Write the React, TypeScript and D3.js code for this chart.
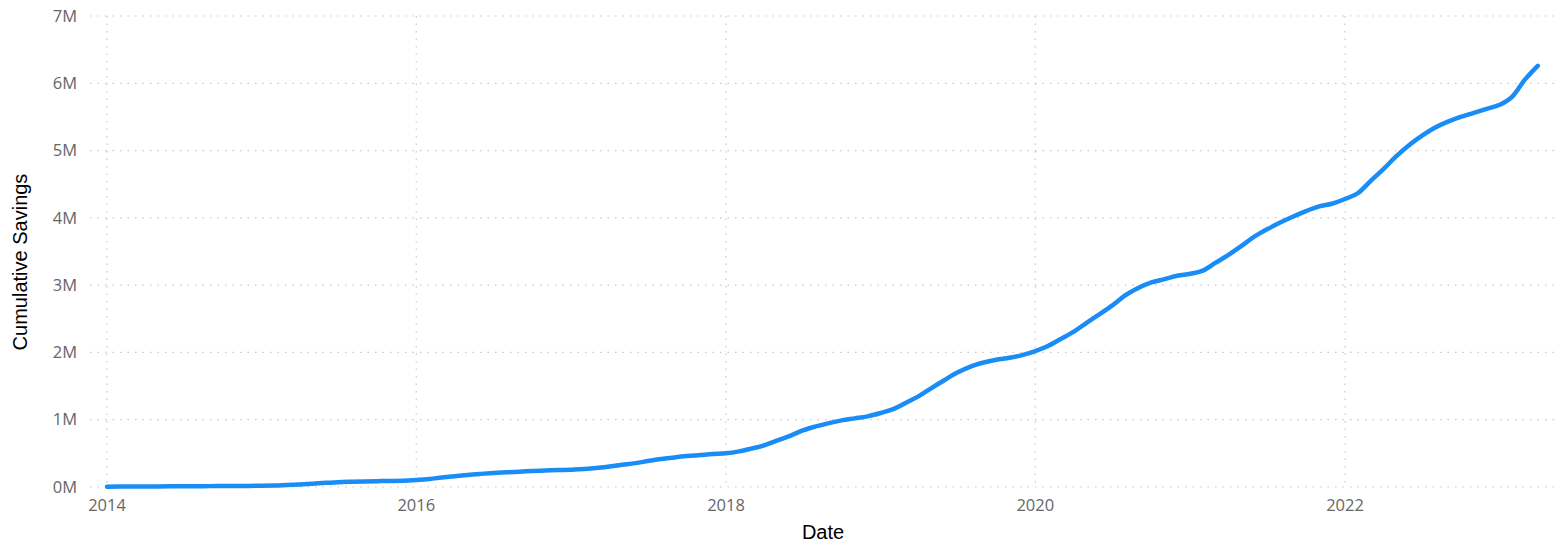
import React from "react";
import * as d3 from "d3";

const startMonth = "2014-01";
const values2014 = [0.005, 0.006, 0.007, 0.008, 0.009, 0.010, 0.011, 0.012, 0.013, 0.014, 0.015, 0.016];
const values2015 = [0.018, 0.022, 0.028, 0.038, 0.050, 0.062, 0.072, 0.078, 0.083, 0.087, 0.090, 0.094];
const values2016 = [0.105, 0.120, 0.140, 0.160, 0.180, 0.195, 0.207, 0.218, 0.228, 0.238, 0.245, 0.252];
const values2017 = [0.258, 0.268, 0.282, 0.305, 0.330, 0.355, 0.385, 0.415, 0.440, 0.460, 0.475, 0.490];
const values2018 = [0.50, 0.53, 0.57, 0.62, 0.69, 0.76, 0.84, 0.90, 0.95, 0.99, 1.02, 1.05];
const values2019 = [1.10, 1.16, 1.25, 1.35, 1.47, 1.59, 1.70, 1.79, 1.85, 1.89, 1.92, 1.96];
const values2020 = [2.02, 2.10, 2.20, 2.31, 2.44, 2.57, 2.70, 2.85, 2.96, 3.04, 3.09, 3.14];
const values2021 = [3.17, 3.22, 3.33, 3.45, 3.58, 3.72, 3.83, 3.93, 4.02, 4.10, 4.17, 4.21];
const values2022 = [4.28, 4.37, 4.54, 4.72, 4.91, 5.08, 5.22, 5.34, 5.43, 5.50, 5.56, 5.62];
const values2023 = [5.68, 5.81, 6.05, 6.26];

const yTicks = [0, 1, 2, 3, 4, 5, 6, 7];
const xTickYears = [2014, 2016, 2018, 2020, 2022];
const xTitle = "Date";
const yTitle = "Cumulative Savings";

const allValues = [
  ...values2014, ...values2015, ...values2016, ...values2017, ...values2018,
  ...values2019, ...values2020, ...values2021, ...values2022, ...values2023,
];

export default function App() {
  const W = 1562, H = 542;
  const parse = d3.timeParse("%Y-%m");
  const start = parse(startMonth)!;
  const data = allValues.map((v, i) => ({ date: d3.timeMonth.offset(start, i), value: v * 1e6 }));

  const x = d3.scaleTime()
    .domain([new Date(2014, 0, 1), new Date(2022, 0, 1)])
    .range([107, 1345]);
  const y = d3.scaleLinear().domain([0, 7e6]).range([487, 16]);

  const line = d3.line<{ date: Date; value: number }>()
    .x(d => x(d.date))
    .y(d => y(d.value))
    .curve(d3.curveMonotoneX);

  const gridLeft = 90, gridRight = 1556;
  const tickFont = "'Open Sans', 'Noto Sans', sans-serif";
  const titleFont = "'Liberation Sans', Arial, sans-serif";

  return (
    <svg width={W} height={H} style={{ position: "absolute", left: 0, top: 0, background: "#fff" }}>
      {yTicks.map(t => (
        <line key={"hy" + t} x1={gridLeft} x2={gridRight} y1={y(t * 1e6)} y2={y(t * 1e6)}
          stroke="#C8C8C8" strokeWidth={1.2} strokeDasharray="1.5,6" />
      ))}
      {xTickYears.map(yr => (
        <line key={"vx" + yr} x1={x(new Date(yr, 0, 1))} x2={x(new Date(yr, 0, 1))} y1={y(7e6)} y2={y(0)}
          stroke="#C8C8C8" strokeWidth={1.2} strokeDasharray="1.5,6" />
      ))}
      {yTicks.map(t => (
        <text key={"ty" + t} x={77} y={y(t * 1e6)} dy="0.35em" textAnchor="end"
          fontFamily={tickFont} fontSize={16.5} fill="#666666">{t + "M"}</text>
      ))}
      {xTickYears.map(yr => (
        <text key={"tx" + yr} x={x(new Date(yr, 0, 1))} y={511} textAnchor="middle"
          fontFamily={tickFont} fontSize={16.5} fill="#666666">{String(yr)}</text>
      ))}
      <path d={line(data) || ""} fill="none" stroke="#1A8CF5" strokeWidth={4.5}
        strokeLinecap="round" strokeLinejoin="round" />
      <text x={823} y={539} textAnchor="middle" fontFamily={titleFont} fontSize={20} fill="#000">{xTitle}</text>
      <text transform={`translate(27, 262) rotate(-90)`} textAnchor="middle" fontFamily={titleFont}
        fontSize={20} fill="#000">{yTitle}</text>
    </svg>
  );
}
